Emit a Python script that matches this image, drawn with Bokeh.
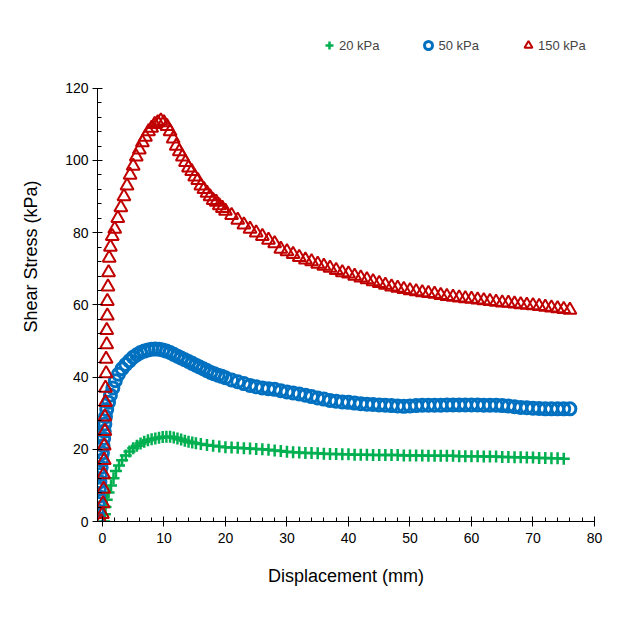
from bokeh.plotting import figure
from bokeh.models import Range1d, SingleIntervalTicker, Legend, LegendItem, Title
from bokeh.embed import file_html
from bokeh.resources import INLINE

# 20 kPa normal stress
disp_20 = [0.3, 0.4, 0.5, 0.7, 1.0, 1.4, 1.8, 2.2, 2.7, 3.2, 3.8, 4.4, 5.0, 5.6, 6.2, 6.8, 7.4, 8.0,
           8.6, 9.2, 9.8, 10.4, 11.0, 11.6, 12.2, 12.8, 13.4, 14.0, 14.6, 15.2, 16, 17, 18, 19, 20,
           21, 22, 23, 24, 25, 26, 27, 28, 29, 30, 31, 32, 33, 34, 35, 36, 37, 38, 39, 40, 41, 42,
           43, 44, 45, 46, 47, 48, 49, 50, 51, 52, 53, 54, 55, 56, 57, 58, 59, 60, 61, 62, 63, 64,
           65, 66, 67, 68, 69, 70, 71, 72, 73, 74, 75]
stress_20 = [0, 2, 4, 6, 8, 10, 12, 14, 15.5, 17, 18.3, 19.4, 20.3, 21, 21.6, 22.1, 22.5, 22.8,
             23, 23.2, 23.4, 23.5, 23.5, 23.3, 23, 22.7, 22.4, 22.1, 21.9, 21.7, 21.5, 21.2, 21,
             20.8, 20.6, 20.5, 20.4, 20.3, 20.2, 20.1, 20, 19.9, 19.7, 19.5, 19.3, 19.2, 19.1, 19,
             19, 18.9, 18.8, 18.7, 18.7, 18.6, 18.6, 18.5, 18.5, 18.5, 18.4, 18.4, 18.4, 18.4,
             18.4, 18.3, 18.3, 18.3, 18.3, 18.2, 18.2, 18.2, 18.2, 18.2, 18.1, 18.1, 18.1, 18.1,
             18, 18, 18, 17.9, 17.9, 17.8, 17.8, 17.7, 17.7, 17.6, 17.6, 17.5, 17.5, 17.4]

# 50 kPa normal stress
disp_50 = [-0.8, -0.8, -0.7, -0.6, -0.5, -0.4, -0.3, -0.2, -0.1, 0, 0.1, 0.2, 0.3, 0.4, 0.5, 0.7,
           1.0, 1.3, 1.7, 2.1, 2.6, 3.2, 3.8, 4.4, 5.0, 5.6, 6.2, 6.8, 7.4, 8.0, 8.6, 9.2, 9.8,
           10.4, 11, 11.6, 12.2, 12.8, 13.4, 14, 14.6, 15.2, 15.8, 16.4, 17, 17.6, 18.2, 18.8,
           19.4, 20, 21, 22, 23, 24, 25, 26, 27, 28, 29, 30, 31, 32, 33, 34, 35, 36, 37, 38, 39,
           40, 41, 42, 43, 44, 45, 46, 47, 48, 49, 50, 51, 52, 53, 54, 55, 56, 57, 58, 59, 60, 61,
           62, 63, 64, 65, 66, 67, 68, 69, 70, 71, 72, 73, 74, 75, 76]
stress_50 = [1, 3, 5, 7, 9, 11, 13, 15, 17, 19, 21, 23, 25, 27, 29, 31, 33, 35, 37, 39, 40.8, 42.3,
             43.5, 44.5, 45.5, 46.2, 46.8, 47.2, 47.5, 47.7, 47.8, 47.7, 47.5, 47.2, 46.8, 46.3,
             45.8, 45.3, 44.8, 44.3, 43.8, 43.3, 42.8, 42.3, 41.8, 41.3, 40.9, 40.5, 40.2, 39.8,
             39.2, 38.7, 38.2, 37.7, 37.3, 37, 36.8, 36.6, 36.2, 35.9, 35.6, 35.3, 35, 34.6, 34.2,
             33.9, 33.5, 33.3, 33.1, 33, 32.8, 32.6, 32.5, 32.4, 32.3, 32.2, 32.1, 32, 31.9, 32,
             32.1, 32.2, 32.2, 32.2, 32.2, 32.3, 32.3, 32.3, 32.3, 32.3, 32.3, 32.2, 32.2, 32.2,
             32.1, 32, 31.8, 31.6, 31.5, 31.4, 31.3, 31.2, 31.2, 31.2, 31.2, 31.2]

# 150 kPa normal stress
disp_150 = [-0.2, 0, 0.1, 0.2, 0.2, 0.3, 0.3, 0.4, 0.4, 0.5, 0.5, 0.6, 0.6, 0.7, 0.7, 0.8, 0.8,
            0.9, 1.0, 1.1, 1.3, 1.6, 2.0, 2.5, 3.0, 3.5, 4.0, 4.5, 5.0, 5.5, 6.0, 6.5, 7.0, 7.5,
            8.0, 8.5, 9.0, 9.5, 10.0, 10.5, 11.0, 11.5, 12.0, 12.5, 13.0, 13.5, 14.0, 14.5, 15.0,
            15.5, 16, 16.5, 17, 17.5, 18, 18.5, 19, 19.5, 20, 21, 22, 23, 24, 25, 26, 27, 28, 29,
            30, 31, 32, 33, 34, 35, 36, 37, 38, 39, 40, 41, 42, 43, 44, 45, 46, 47, 48, 49, 50, 51,
            52, 53, 54, 55, 56, 57, 58, 59, 60, 61, 62, 63, 64, 65, 66, 67, 68, 69, 70, 71, 72, 73,
            74, 75, 76]
stress_150 = [0, 2, 5, 9, 13, 17, 21, 25, 29, 33, 37, 41, 45, 49, 53, 57, 61, 65, 69, 73, 76, 79,
              81, 84, 87, 90, 93, 96, 98.5, 101, 103, 105, 106.5, 108, 109, 110, 110.5, 111,
              110.5, 109.5, 108, 106, 104, 102.5, 101, 99.5, 98, 97, 95.5, 94.5, 93, 92, 91, 90,
              89, 88.5, 87.5, 86.8, 86, 84.8, 83.5, 82.2, 81, 80, 79, 78, 77, 75.5, 74.8, 74,
              73.2, 72.5, 72, 71.3, 70.8, 70.2, 69.6, 69, 68.6, 68, 67.5, 67, 66.5, 66, 65.5, 65,
              64.7, 64.3, 64, 63.7, 63.4, 63.2, 63, 62.7, 62.4, 62.2, 62, 61.8, 61.6, 61.4, 61.2,
              61, 60.8, 60.6, 60.5, 60.3, 60.1, 60, 59.8, 59.6, 59.4, 59.2, 59, 58.8, 58.6]

FONT = "Liberation Sans"

# y range runs past 120 so the legend fits inside the frame; the axis stops at 120
p = figure(width=616, height=601, output_backend="svg", toolbar_location=None,
           x_range=Range1d(-0.8, 80), y_range=Range1d(0, 136),
           min_border_left=96, min_border_right=22, min_border_top=30, min_border_bottom=80)
p.outline_line_color = None
p.xgrid.visible = False
p.ygrid.visible = False

r20 = p.scatter(disp_20, stress_20, marker="cross", size=12, line_color="#00b050", line_width=2.5)
r50 = p.scatter(disp_50, stress_50, marker="circle", size=12, line_color="#0070c0",
                fill_color=None, line_width=3)
r150 = p.scatter(disp_150, stress_150, marker="triangle", size=13, line_color="#c00000",
                 fill_color=None, line_width=2)

p.xaxis.ticker = SingleIntervalTicker(interval=10, num_minor_ticks=5)
p.yaxis.ticker = SingleIntervalTicker(interval=20, num_minor_ticks=5)
p.yaxis.bounds = (0, 120)
p.xaxis.axis_label = "Displacement (mm)"
for ax in (p.xaxis[0], p.yaxis[0]):
    ax.axis_line_color = "black"
    ax.major_tick_line_color = "black"
    ax.minor_tick_line_color = "black"
    ax.major_tick_in = 5
    ax.major_tick_out = 5
    ax.minor_tick_in = 4
    ax.minor_tick_out = 0
    ax.major_label_text_font = FONT
    ax.major_label_text_font_size = "14px"
    ax.major_label_text_color = "black"
    ax.axis_label_text_font = FONT
    ax.axis_label_text_font_size = "18px"
    ax.axis_label_text_font_style = "normal"
    ax.axis_label_text_color = "black"
p.xaxis.major_label_standoff = 6
p.yaxis.major_label_standoff = 4
p.xaxis.axis_label_standoff = 20

# y label as a side title so it can sit a little above the axis middle
ylabel = Title(text="Shear Stress (kPa)", align="left", offset=189, vertical_align="top",
               standoff=40, text_font=FONT, text_font_size="18px", text_font_style="normal",
               text_color="black")
p.add_layout(ylabel, "left")

legend = Legend(items=[LegendItem(label="20 kPa", renderers=[r20]),
                       LegendItem(label="50 kPa", renderers=[r50]),
                       LegendItem(label="150 kPa", renderers=[r150])],
                orientation="horizontal", location=(222, 463),
                border_line_color=None, background_fill_alpha=0,
                padding=0, margin=0, spacing=39, glyph_width=20, glyph_height=26,
                label_standoff=0, label_text_font=FONT, label_text_font_size="13px")
p.add_layout(legend, "center")

open("out.html", "w").write(file_html(p, INLINE))
